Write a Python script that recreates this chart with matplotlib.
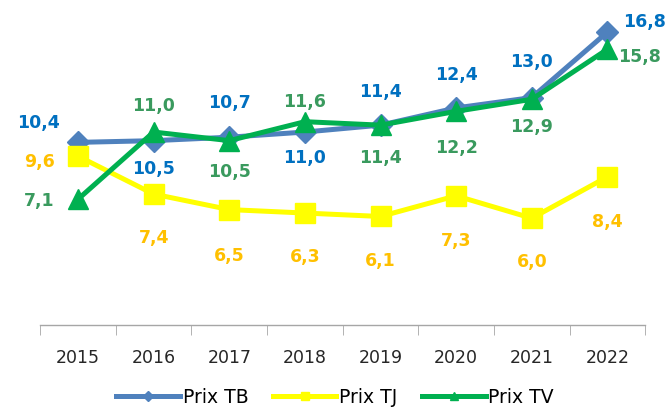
import matplotlib.pyplot as plt
import numpy as np

years = ['2015', '2016', '2017', '2018', '2019', '2020', '2021', '2022']
prix_tb = [10.4, 10.5, 10.7, 11.0, 11.4, 12.4, 13.0, 16.8]
prix_tj = [9.6, 7.4, 6.5, 6.3, 6.1, 7.3, 6.0, 8.4]
prix_tv = [7.1, 11.0, 10.5, 11.6, 11.4, 12.2, 12.9, 15.8]

# label offsets in pixels (dx, dy) per point
off_tb = [(-40, 19), (0, -28), (0, 34), (0, -26), (0, 33), (0, 33), (0, 36), (37, 10)]
off_tj = [(-39, -6), (0, -44), (0, -46), (0, -44), (0, -45), (0, -45), (0, -44), (0, -45)]
off_tv = [(-39, -2), (0, 26), (0, -31), (0, 20), (0, -33), (0, -37), (0, -28), (32, -8)]

plt.rcParams['font.family'] = ['DejaVu Sans']

fig = plt.figure(figsize=(6.7, 4.12), dpi=100)
ax = fig.add_axes([0.06, 0.211, 0.903, 0.753])
x = np.arange(len(years))

series = [
    ('Prix TB', prix_tb, '#4F81BD', 'D', 11.5, '#0070C0', off_tb),
    ('Prix TJ', prix_tj, '#FFFF00', 's', 15, '#FFC000', off_tj),
    ('Prix TV', prix_tv, '#00B050', '^', 14, '#3A9A5E', off_tv),
]

for name, vals, col, mk, ms, lcol, offs in series:
    ax.plot(x, vals, color=col, lw=3.6, marker=mk, markersize=ms,
            markeredgecolor=col, label=name)
    for i, v in enumerate(vals):
        ax.annotate(f'{v:.1f}'.replace('.', ','), (x[i], v),
                    xytext=offs[i], textcoords='offset pixels',
                    ha='center', va='center', fontsize=12.5,
                    fontweight='bold', color=lcol)

ax.set_xlim(-0.5, 7.5)
ax.set_ylim(-0.2, 17.8)
ax.set_yticks([])
for s in ['left', 'right', 'top']:
    ax.spines[s].set_visible(False)
ax.spines['bottom'].set_color('#A6A6A6')
ax.spines['bottom'].set_linewidth(1)

ax.set_xticks(x)
ax.set_xticklabels(years, fontsize=12.5, color='#262626')
ax.tick_params(axis='x', which='major', length=0, pad=17)
ax.set_xticks(np.arange(-0.5, 8, 1), minor=True)
ax.tick_params(axis='x', which='minor', length=7, color='#A6A6A6')

fig.legend(loc='lower center', bbox_to_anchor=(0.5, -0.028), ncol=3,
           frameon=False, fontsize=13.5, handlelength=3.4, markerscale=0.4,
           columnspacing=1.3, handletextpad=0.15)

fig.savefig('out.png', dpi=100)
